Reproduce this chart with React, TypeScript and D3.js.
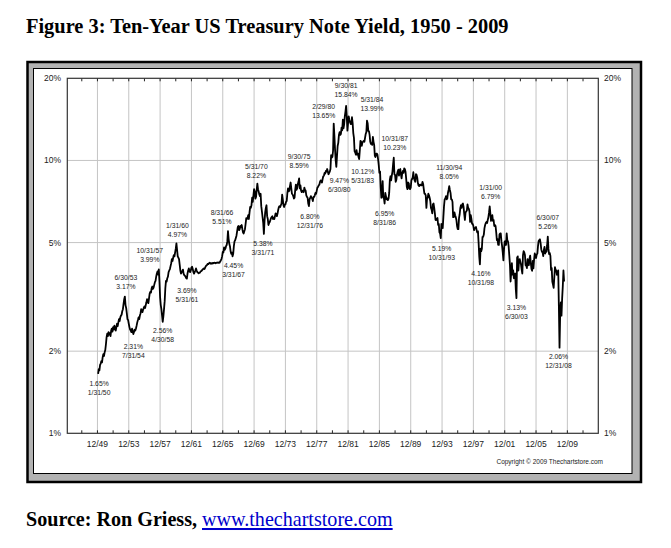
import React from "react";
import * as d3 from "d3";

// ---------- DATA ----------
const START_YEAR = 1950;
// Month-end 10-year yields (%), Jan 1950 onward
const monthlyYield: number[] = [
  // 1950
  1.65, 1.72, 1.7, 1.78, 1.8, 1.84, 1.82, 1.9, 1.95, 1.92, 1.98, 2.02,
  // 1951
  2.12, 2.25, 2.32, 2.27, 2.35, 2.3, 2.33, 2.27, 2.38, 2.42, 2.36, 2.45,
  // 1952
  2.4, 2.48, 2.43, 2.38, 2.45, 2.52, 2.47, 2.55, 2.62, 2.58, 2.66, 2.7,
  // 1953
  2.72, 2.8, 2.85, 2.98, 3.1, 3.17, 2.95, 2.88, 2.75, 2.62, 2.6, 2.52,
  // 1954
  2.45, 2.4, 2.38, 2.35, 2.42, 2.36, 2.31, 2.35, 2.4, 2.38, 2.42, 2.48,
  // 1955
  2.55, 2.6, 2.66, 2.62, 2.7, 2.75, 2.85, 2.82, 2.78, 2.84, 2.88, 2.92,
  // 1956
  2.88, 2.95, 3.02, 3.1, 3.05, 3.0, 3.12, 3.25, 3.3, 3.28, 3.4, 3.45,
  // 1957
  3.38, 3.42, 3.5, 3.58, 3.62, 3.75, 3.85, 3.92, 3.82, 3.99, 3.6, 3.15,
  // 1958
  2.95, 2.85, 2.7, 2.56, 2.68, 2.85, 3.05, 3.4, 3.62, 3.6, 3.7, 3.75,
  // 1959
  3.9, 3.95, 4.0, 4.1, 4.2, 4.35, 4.28, 4.4, 4.5, 4.45, 4.6, 4.75,
  // 1960
  4.97, 4.7, 4.45, 4.4, 4.35, 4.15, 3.95, 3.85, 3.9, 3.92, 3.98, 3.85,
  // 1961
  3.8, 3.78, 3.75, 3.7, 3.69, 3.85, 3.95, 4.02, 3.92, 3.9, 3.95, 4.05,
  // 1962
  4.08, 4.0, 3.9, 3.85, 3.9, 3.95, 4.02, 3.95, 3.9, 3.88, 3.86, 3.87,
  // 1963
  3.88, 3.92, 3.93, 3.95, 3.98, 4.0, 4.02, 4.0, 4.05, 4.1, 4.12, 4.14,
  // 1964
  4.18, 4.17, 4.2, 4.22, 4.2, 4.18, 4.2, 4.19, 4.21, 4.2, 4.22, 4.21,
  // 1965
  4.2, 4.22, 4.21, 4.22, 4.23, 4.21, 4.22, 4.26, 4.3, 4.35, 4.45, 4.62,
  // 1966
  4.6, 4.8, 4.7, 4.75, 4.85, 4.9, 5.05, 5.51, 5.15, 4.95, 4.85, 4.65,
  // 1967
  4.55, 4.6, 4.45, 4.55, 4.85, 5.05, 5.1, 5.2, 5.3, 5.5, 5.7, 5.75,
  // 1968
  5.55, 5.6, 5.75, 5.7, 5.8, 5.6, 5.45, 5.4, 5.5, 5.6, 5.85, 6.15,
  // 1969
  6.1, 6.15, 6.3, 6.1, 6.45, 6.75, 6.7, 6.85, 7.3, 7.05, 7.45, 7.85,
  // 1970
  7.7, 7.25, 7.35, 7.8, 8.22, 7.85, 7.7, 7.5, 7.4, 7.55, 6.8, 6.5,
  // 1971
  6.2, 5.9, 5.38, 6.0, 6.45, 6.7, 6.85, 6.25, 6.1, 5.8, 5.9, 5.95,
  // 1972
  6.05, 6.15, 6.2, 6.25, 6.1, 6.15, 6.1, 6.25, 6.4, 6.3, 6.25, 6.4,
  // 1973
  6.6, 6.75, 6.8, 6.75, 6.85, 6.95, 7.5, 7.2, 6.85, 6.75, 6.9, 6.9,
  // 1974
  7.05, 7.1, 7.6, 7.9, 7.7, 7.75, 8.05, 8.3, 7.9, 7.55, 7.5, 7.4,
  // 1975
  7.25, 7.3, 7.8, 8.15, 7.8, 7.9, 8.2, 8.35, 8.59, 7.9, 8.1, 7.75,
  // 1976
  7.65, 7.75, 7.7, 7.65, 7.95, 7.8, 7.75, 7.45, 7.35, 7.3, 6.95, 6.8,
  // 1977
  7.2, 7.3, 7.4, 7.3, 7.25, 7.1, 7.35, 7.35, 7.45, 7.6, 7.55, 7.75,
  // 1978
  7.95, 8.0, 8.1, 8.15, 8.35, 8.45, 8.4, 8.3, 8.55, 8.75, 8.8, 9.0,
  // 1979
  8.95, 9.15, 9.1, 9.3, 9.1, 8.9, 9.0, 9.1, 9.3, 10.45, 10.25, 10.3,
  // 1980
  10.85, 13.65, 12.4, 11.0, 10.0, 9.47, 10.35, 11.3, 11.6, 12.4, 12.7, 12.4,
  // 1981
  12.5, 13.2, 12.9, 14.1, 13.1, 13.55, 14.5, 15.1, 15.84, 14.5, 12.85, 13.7,
  // 1982
  14.5, 14.1, 13.8, 13.6, 13.6, 14.4, 13.7, 12.6, 12.1, 10.8, 10.7, 10.5,
  // 1983
  10.9, 10.5, 10.6, 10.3, 10.12, 10.9, 11.8, 11.7, 11.3, 11.65, 11.7, 11.8,
  // 1984
  11.7, 12.1, 12.5, 12.7, 13.99, 13.7, 12.8, 12.8, 12.4, 11.7, 11.5, 11.55,
  // 1985
  11.4, 12.2, 11.7, 11.4, 10.4, 10.3, 10.6, 10.6, 10.5, 10.1, 9.6, 9.0,
  // 1986
  9.1, 8.0, 7.3, 7.6, 8.4, 7.3, 7.25, 6.95, 7.6, 7.4, 7.2, 7.25,
  // 1987
  7.15, 7.25, 7.6, 8.5, 8.75, 8.45, 8.8, 9.1, 9.7, 10.23, 8.9, 8.85,
  // 1988
  8.35, 8.5, 8.9, 9.1, 9.25, 8.8, 9.2, 9.3, 8.9, 8.6, 9.0, 9.15,
  // 1989
  9.0, 9.35, 9.3, 9.1, 8.6, 8.0, 7.85, 8.3, 8.25, 7.9, 7.85, 7.95,
  // 1990
  8.45, 8.55, 8.65, 9.05, 8.6, 8.45, 8.35, 8.9, 8.85, 8.65, 8.25, 8.1,
  // 1991
  8.05, 8.15, 8.15, 8.1, 8.1, 8.35, 8.2, 7.85, 7.55, 7.55, 7.45, 6.7,
  // 1992
  7.25, 7.3, 7.55, 7.45, 7.3, 7.1, 6.7, 6.6, 6.4, 6.9, 6.95, 6.7,
  // 1993
  6.4, 6.05, 6.05, 6.1, 6.15, 5.8, 5.85, 5.45, 5.4, 5.19, 5.85, 5.8,
  // 1994
  5.65, 6.2, 6.8, 7.2, 7.25, 7.4, 7.2, 7.25, 7.6, 7.8, 8.05, 7.8,
  // 1995
  7.6, 7.2, 7.2, 7.05, 6.2, 6.2, 6.45, 6.3, 6.2, 6.05, 5.75, 5.6,
  // 1996
  5.6, 6.15, 6.35, 6.7, 6.85, 6.7, 6.9, 6.95, 6.75, 6.35, 6.05, 6.45,
  // 1997
  6.5, 6.55, 6.9, 6.7, 6.65, 6.5, 5.95, 6.3, 6.1, 5.85, 5.85, 5.75,
  // 1998
  5.55, 5.65, 5.65, 5.7, 5.55, 5.45, 5.5, 5.0, 4.45, 4.16, 4.75, 4.65,
  // 1999
  4.75, 5.25, 5.25, 5.35, 5.65, 5.8, 5.9, 5.95, 5.9, 6.05, 6.2, 6.45,
  // 2000
  6.79, 6.4, 6.0, 6.2, 6.3, 6.0, 6.05, 5.75, 5.8, 5.75, 5.45, 5.1,
  // 2001
  5.15, 4.9, 4.9, 5.35, 5.4, 5.4, 5.05, 4.85, 4.6, 4.3, 4.75, 5.05,
  // 2002
  5.05, 4.9, 5.4, 5.1, 5.05, 4.85, 4.5, 4.15, 3.6, 3.9, 4.2, 3.82,
  // 2003
  3.95, 3.7, 3.8, 3.85, 3.37, 3.13, 4.4, 4.45, 3.95, 4.3, 4.35, 4.25,
  // 2004
  4.15, 3.98, 3.85, 4.5, 4.65, 4.6, 4.5, 4.13, 4.13, 4.03, 4.35, 4.22,
  // 2005
  4.13, 4.37, 4.48, 4.2, 4.0, 3.94, 4.28, 4.02, 4.33, 4.56, 4.49, 4.39,
  // 2006
  4.52, 4.55, 4.85, 5.07, 5.11, 5.14, 4.98, 4.73, 4.63, 4.61, 4.46, 4.7,
  // 2007
  4.82, 4.56, 4.65, 4.63, 4.89, 5.26, 4.74, 4.54, 4.58, 4.47, 3.97, 4.03,
  // 2008
  3.59, 3.51, 3.41, 3.73, 4.06, 3.97, 3.95, 3.81, 3.82, 3.95, 2.92, 2.06,
  // 2009
  2.75, 3.02, 2.7, 3.12, 3.46, 3.95, 3.6,
];

const yTickValues = [1, 2, 5, 10, 20];
const yTickLabels = ["1%", "2%", "5%", "10%", "20%"];
const yGridValues = [2, 5, 10];

const xGridDates = [1950, 1954, 1958, 1962, 1966, 1970, 1974, 1978, 1982, 1986, 1990, 1994, 1998, 2002, 2006, 2010];
const xGridLabels = ["12/49", "12/53", "12/57", "12/61", "12/65", "12/69", "12/73", "12/77", "12/81", "12/85", "12/89", "12/93", "12/97", "12/01", "12/05", "12/09"];
const minorTickDates = [1948, 1952, 1956, 1960, 1964, 1968, 1972, 1976, 1980, 1984, 1988, 1992, 1996, 2000, 2004, 2008, 2012];

const annDates = ["1/31/50", "6/30/53", "7/31/54", "10/31/57", "4/30/58", "1/31/60", "5/31/61", "8/31/66", "3/31/67", "5/31/70", "3/31/71", "9/30/75", "12/31/76", "2/29/80", "6/30/80", "9/30/81", "5/31/83", "5/31/84", "8/31/86", "10/31/87", "10/31/93", "11/30/94", "10/31/98", "1/31/00", "6/30/03", "6/30/07", "12/31/08"];
const annValues = [1.65, 3.17, 2.31, 3.99, 2.56, 4.97, 3.69, 5.51, 4.45, 8.22, 5.38, 8.59, 6.8, 13.65, 9.47, 15.84, 10.12, 13.99, 6.95, 10.23, 5.19, 8.05, 4.16, 6.79, 3.13, 5.26, 2.06];
const annSide = ["below", "above", "below", "above", "below", "above", "below", "above", "below", "above", "below", "above", "below", "above", "below", "above", "below", "above", "below", "above", "below", "above", "below", "above", "below", "above", "below"];

// label layout tweaks [dx, dy] in px
const annNudge: [number, number][] = [
  [1, 0], [1, 0], [0, 2], [-9, 0], [0, -1], [1, 1], [0, 2], [-6, 0], [1, -1], [-1, 1.5], [-1, 0], [0, -3], [1, 0], [-10, 2], [3, 4], [0, -1], [3.5, 2], [5, -2], [0, 0], [1, 0], [1, 0], [0, 0], [1, -1], [1, 0.5], [0, -1], [0, 0], [-1, -1.5],
];

// ---------- HELPERS ----------
const parseDate = (s: string) => {
  const [m, , yy] = s.split("/").map(Number);
  const year = yy < 20 ? 2000 + yy : 1900 + yy;
  return year + m / 12;
};
const fmtPct = (v: number) => v.toFixed(2) + "%";

const W = 671;
const H = 548;
const plot = { left: 67.3, right: 598.3, top: 78.3, bottom: 433.3 };

export default function App() {
  const x = d3.scaleLinear().domain([1946.15, 2013.95]).range([plot.left, plot.right]);
  const y = d3.scaleLog().domain([1, 20]).range([plot.bottom, plot.top]);

  const series = monthlyYield.map((v, i) => ({ t: START_YEAR + (i + 1) / 12, v }));
  const linePath = d3
    .line<{ t: number; v: number }>()
    .x((d) => x(d.t))
    .y((d) => y(d.v))(series) as string;

  const axisFont = "'Liberation Sans', Arial, sans-serif";
  const serif = "'Liberation Serif', 'Times New Roman', serif";

  const tickDates = [...xGridDates, ...minorTickDates];

  return (
    <svg width={W} height={H} style={{ position: "absolute", left: 0, top: 0, background: "#fff" }}>
      <rect x={0} y={0} width={W} height={H} fill="#fff" />
      {/* Title */}
      <text x={26} y={33} fontFamily={serif} fontWeight="bold" fontSize={20.4} fill="#000">
        Figure 3: Ten-Year US Treasury Note Yield, 1950 - 2009
      </text>

      {/* Frame */}
      <rect x={27.5} y={62} width={613.5} height={420} fill="#b2b2b2" stroke="#000" strokeWidth={2.5} />
      <rect x={33.5} y={68.5} width={598.5} height={405} fill="#fff" stroke="#000" strokeWidth={1} />

      {/* Grid */}
      {xGridDates.map((d) => (
        <line key={"gx" + d} x1={x(d)} x2={x(d)} y1={plot.top} y2={plot.bottom} stroke="#c4c4c4" strokeWidth={1} />
      ))}
      {yGridValues.map((v) => (
        <line key={"gy" + v} x1={plot.left} x2={plot.right} y1={y(v)} y2={y(v)} stroke="#c4c4c4" strokeWidth={1} />
      ))}

      {/* Ticks */}
      {tickDates.map((d) => (
        <g key={"t" + d}>
          <line x1={x(d)} x2={x(d)} y1={plot.top} y2={plot.top + 3} stroke="#222" strokeWidth={1} />
          <line x1={x(d)} x2={x(d)} y1={plot.bottom} y2={plot.bottom - 3} stroke="#222" strokeWidth={1} />
        </g>
      ))}

      {/* Plot border */}
      <rect x={plot.left} y={plot.top} width={plot.right - plot.left} height={plot.bottom - plot.top} fill="none" stroke="#333" strokeWidth={1.2} />

      {/* Y labels */}
      {yTickValues.map((v, i) => (
        <g key={"yl" + v}>
          <text x={61} y={y(v) + 3} textAnchor="end" fontFamily={axisFont} fontSize={8.5} fill="#222">
            {yTickLabels[i]}
          </text>
          <text x={604} y={y(v) + 3} textAnchor="start" fontFamily={axisFont} fontSize={8.5} fill="#222">
            {yTickLabels[i]}
          </text>
        </g>
      ))}

      {/* X labels */}
      {xGridDates.map((d, i) => (
        <text key={"xl" + d} x={x(d)} y={447} textAnchor="middle" fontFamily={axisFont} fontSize={8.5} fill="#222">
          {xGridLabels[i]}
        </text>
      ))}

      {/* Series */}
      <path d={linePath} fill="none" stroke="#000" strokeWidth={1.8} strokeLinejoin="round" />

      {/* Annotations */}
      {annDates.map((ds, i) => {
        const px = x(parseDate(ds)) + annNudge[i][0];
        const py = y(annValues[i]) + annNudge[i][1];
        const above = annSide[i] === "above";
        const lines = above ? [ds, fmtPct(annValues[i])] : [fmtPct(annValues[i]), ds];
        const c1 = above ? py - 19 : py + 10;
        const c2 = above ? py - 10 : py + 19;
        return (
          <g key={"a" + i} fontFamily={axisFont} fontSize={6.8} fill="#222" textAnchor="middle">
            <text x={px} y={c1 + 2.5}>{lines[0]}</text>
            <text x={px} y={c2 + 2.5}>{lines[1]}</text>
          </g>
        );
      })}

      {/* Copyright */}
      <text x={603} y={464} textAnchor="end" fontFamily={axisFont} fontSize={6.5} fill="#222">
        Copyright © 2009 Thechartstore.com
      </text>

      {/* Source */}
      <text x={26} y={526} fontFamily={serif} fontSize={20.1} fill="#000">
        <tspan fontWeight="bold">Source: Ron Griess, </tspan>
        <tspan fill="#0000cc" textDecoration="underline" style={{ textDecoration: "underline" }}>
          www.thechartstore.com
        </tspan>
      </text>
    </svg>
  );
}
